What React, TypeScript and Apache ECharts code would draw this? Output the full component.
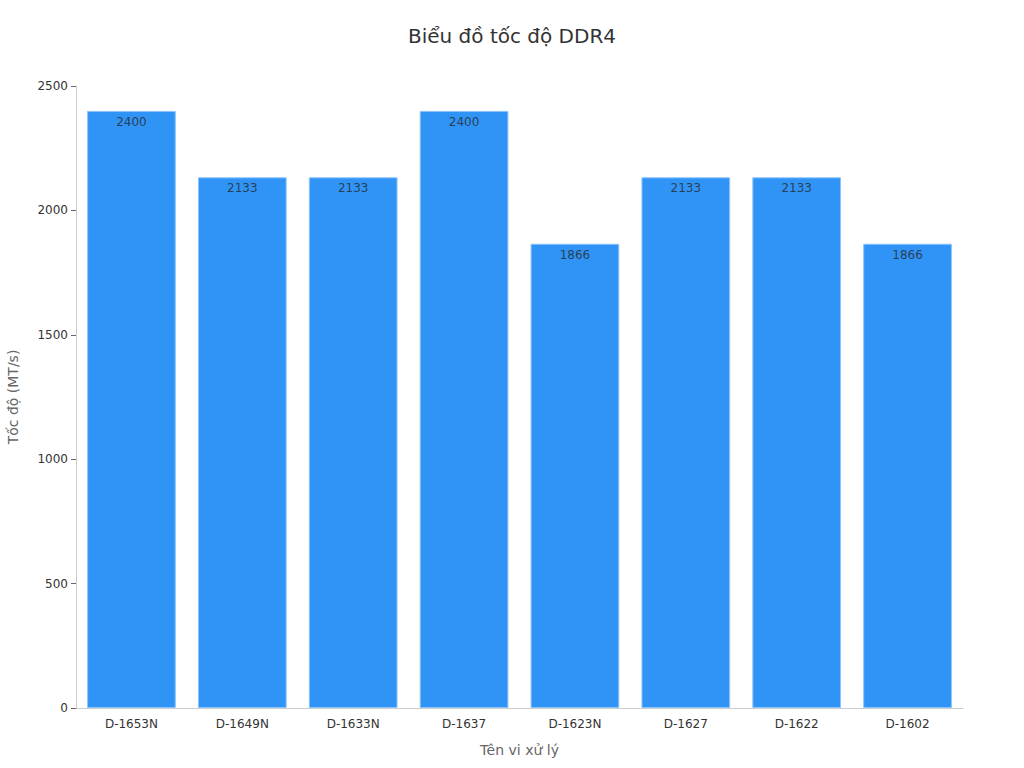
import React, { useEffect, useRef } from "react";
import * as echarts from "echarts";

const categories = ["D-1653N", "D-1649N", "D-1633N", "D-1637", "D-1623N", "D-1627", "D-1622", "D-1602"];
const speeds = [2400, 2133, 2133, 2400, 1866, 2133, 2133, 1866];

export default function App() {
  const ref = useRef<HTMLDivElement>(null);
  useEffect(() => {
    const chart = echarts.init(ref.current!, null, { renderer: "svg" });
    chart.setOption({
      animation: false,
      textStyle: { fontFamily: "DejaVu Sans" },
      title: {
        text: "Biểu đồ tốc độ DDR4",
        left: "center",
        top: 21,
        textStyle: { fontSize: 20, fontWeight: "normal", color: "#333", fontFamily: "DejaVu Sans" },
      },
      grid: { left: 76, right: 61, top: 86, bottom: 60, outerBoundsMode: "none" },
      xAxis: {
        type: "category",
        data: categories,
        name: "Tên vi xử lý",
        nameLocation: "middle",
        nameGap: 35,
        nameTextStyle: { fontSize: 14, color: "#666" },
        axisLine: { lineStyle: { color: "#ccc" } },
        axisTick: { alignWithLabel: true, lineStyle: { color: "#666" } },
        axisLabel: { color: "#333", fontSize: 12, margin: 10 },
      },
      yAxis: {
        type: "value",
        min: 0,
        max: 2500,
        interval: 500,
        name: "Tốc độ (MT/s)",
        nameLocation: "middle",
        nameGap: 56,
        nameTextStyle: { fontSize: 14, color: "#666" },
        axisLine: { show: true, lineStyle: { color: "#ccc" } },
        axisTick: { show: true, lineStyle: { color: "#666" } },
        axisLabel: { color: "#333", fontSize: 12, formatter: (v: number) => String(v) },
        splitLine: { show: false },
      },
      series: [
        {
          type: "bar",
          data: speeds,
          barCategoryGap: "20%",
          itemStyle: { color: "#3094f7", borderColor: "#8cc4fb", borderWidth: 1 },
          label: {
            show: true,
            position: "insideTop",
            color: "rgba(40,40,40,0.8)",
            fontSize: 12,
            distance: 5,
          },
        },
      ],
    });
    return () => chart.dispose();
  }, []);
  return (
    <div
      ref={ref}
      style={{ position: "absolute", left: 0, top: 0, width: 1024, height: 768 }}
    />
  );
}
